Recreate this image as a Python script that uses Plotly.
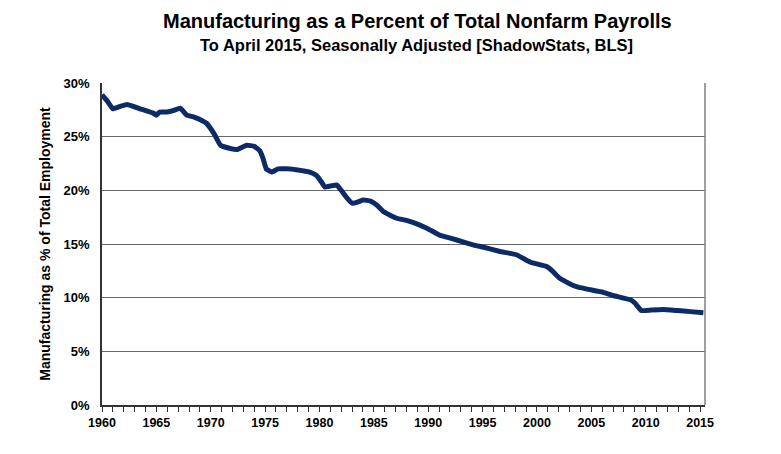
import plotly.graph_objects as go

# Year (decimal) and manufacturing share of total nonfarm payrolls (%)
years = [1960.0, 1960.5, 1961.0, 1961.6, 1962.3, 1963.5, 1964.7, 1965.0, 1965.3, 1966.0,
         1966.6, 1967.2, 1967.8, 1968.4, 1969.0, 1969.6, 1970.1, 1970.4, 1970.9, 1971.8,
         1972.4, 1973.3, 1974.0, 1974.5, 1974.8, 1975.1, 1975.6, 1976.2, 1977.0, 1978.0,
         1979.1, 1979.7, 1980.1, 1980.5, 1981.0, 1981.6, 1982.0, 1982.6, 1983.0, 1983.5,
         1984.0, 1984.7, 1985.3, 1985.9, 1987.1, 1988.0, 1988.9, 1990.0, 1991.1, 1992.2,
         1993.2, 1994.2, 1995.1, 1996.6, 1998.1, 1999.4, 2000.9, 2001.5, 2002.1, 2003.0,
         2003.7, 2004.6, 2006.1, 2007.0, 2008.6, 2009.0, 2009.6, 2010.5, 2011.6, 2012.9,
         2014.1, 2015.3]
share = [28.9, 28.3, 27.6, 27.8, 28.0, 27.6, 27.2, 27.0, 27.3, 27.3,
         27.45, 27.65, 27.0, 26.85, 26.6, 26.25, 25.6, 25.1, 24.2, 23.9,
         23.8, 24.2, 24.1, 23.7, 23.0, 22.0, 21.7, 22.0, 22.0, 21.9,
         21.7, 21.4, 20.9, 20.3, 20.4, 20.5, 20.0, 19.2, 18.8, 18.9,
         19.1, 19.0, 18.6, 18.0, 17.4, 17.2, 16.9, 16.4, 15.8, 15.5,
         15.2, 14.9, 14.7, 14.3, 14.0, 13.3, 12.9, 12.4, 11.8, 11.3,
         11.0, 10.8, 10.5, 10.2, 9.8, 9.5, 8.8, 8.85, 8.9, 8.8,
         8.7, 8.6]

y_ticks = [0, 5, 10, 15, 20, 25, 30]
y_tick_labels = ["0%", "5%", "10%", "15%", "20%", "25%", "30%"]
x_ticks = [1960, 1965, 1970, 1975, 1980, 1985, 1990, 1995, 2000, 2005, 2010, 2015]
x_tick_labels = [str(v) for v in x_ticks]

FONT = "Liberation Sans, Arial, sans-serif"

# page has an 8px body margin; figure pixel coords = screen coords - 8
L, R, T, B = 94, 84, 75, 57
W, H = 781, 454
plot_w = W - L - R
plot_h = H - T - B

def px_x(x):
    return (x - 8 - L) / plot_w

def px_y(y):
    return (H - (y - 8) - B) / plot_h

fig = go.Figure()
fig.add_trace(go.Scatter(
    x=years, y=share, mode="lines",
    line=dict(color="#0b2a66", width=5, shape="spline", smoothing=0.3),
    showlegend=False, hoverinfo="skip",
))

fig.update_layout(
    width=W, height=H,
    margin=dict(l=L, r=R, t=T, b=B),
    paper_bgcolor="white", plot_bgcolor="white",
    font=dict(family=FONT, color="black"),
    annotations=[
        dict(text="Manufacturing as a Percent of Total Nonfarm Payrolls",
             x=px_x(417), y=px_y(21), xref="paper", yref="paper", showarrow=False,
             font=dict(size=20, family=FONT, weight="bold"), xanchor="center", yanchor="middle"),
        dict(text="To April 2015, Seasonally Adjusted [ShadowStats, BLS]",
             x=px_x(416), y=px_y(45), xref="paper", yref="paper", showarrow=False,
             font=dict(size=16.5, family=FONT, weight="bold"), xanchor="center", yanchor="middle"),
    ],
    shapes=[
        dict(type="line", xref="paper", yref="paper", x0=1, x1=1, y0=0, y1=1,
             line=dict(color="#808080", width=1.5)),
    ],
)

fig.update_xaxes(
    range=[1960, 2015.45],
    tickvals=x_ticks, ticktext=x_tick_labels,
    ticks="outside", ticklen=5, tickcolor="#333", tickwidth=1,
    minor=dict(dtick=1, tick0=1960, ticks="outside", ticklen=5, tickcolor="#333", showgrid=False),
    showline=True, linecolor="#333", linewidth=1.5,
    showgrid=False, zeroline=False,
    tickfont=dict(size=12.5, family=FONT, color="black", weight="bold"),
)
fig.update_yaxes(
    range=[0, 30],
    tickvals=y_ticks, ticktext=y_tick_labels,
    ticks="", showline=True, linecolor="#333", linewidth=1.5,
    showgrid=True, gridcolor="#6a6a6a", gridwidth=1,
    zeroline=False,
    tickfont=dict(size=13, family=FONT, color="black", weight="bold"),
    ticklabelstandoff=8,
    title=dict(text="Manufacturing as % of Total Employment",
               font=dict(size=14, family=FONT, weight="bold"), standoff=10),
)

fig.write_html("out.html")
